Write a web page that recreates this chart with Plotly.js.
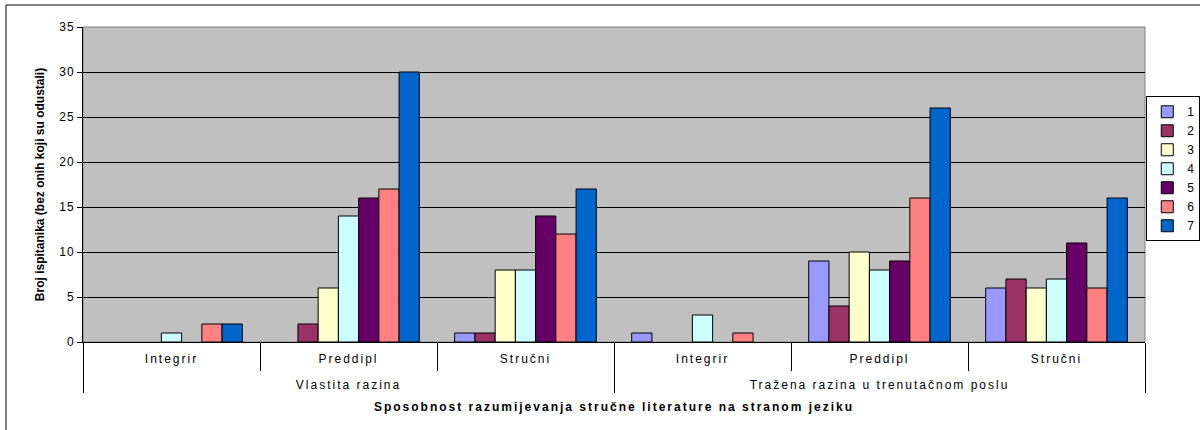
<!DOCTYPE html>
<html>
<head>
<meta charset="utf-8">
<script src="https://cdn.plot.ly/plotly-3.0.1.min.js"></script>
<style>
html,body{margin:0;padding:0;background:#fff}
#chart{width:1200px;height:430px}
#chart .xtick text, #chart .xtick2 text{letter-spacing:2px}
#chart .xtitle{letter-spacing:2px}
#chart .ytick text{letter-spacing:1px}
</style>
</head>
<body>
<div id="chart"></div>
<script>
const groups = ["Vlastita razina","Vlastita razina","Vlastita razina","Tražena razina u trenutačnom poslu","Tražena razina u trenutačnom poslu","Tražena razina u trenutačnom poslu"];
const subcats = ["Integrir","Preddipl","Stručni","Integrir","Preddipl","Stručni"];
const seriesNames = ["1","2","3","4","5","6","7"];
const s1 = [0, 0, 1, 1, 9, 6];
const s2 = [0, 2, 1, 0, 4, 7];
const s3 = [0, 6, 8, 0, 10, 6];
const s4 = [1, 14, 8, 3, 8, 7];
const s5 = [0, 16, 14, 0, 9, 11];
const s6 = [2, 17, 12, 1, 16, 6];
const s7 = [2, 30, 17, 0, 26, 16];
const colors = ["#9999FF","#993366","#FFFFCC","#CCFFFF","#660066","#FF8080","#0066CC"];
const allSeries = [s1,s2,s3,s4,s5,s6,s7];

const FONT = "Liberation Sans, Arial, sans-serif";
// leading line break pushes the group row further below the sub-category row
const groupLabels = groups.map(g => "<br>" + g);
const traces = allSeries.map((vals, i) => ({
  type: "bar",
  name: seriesNames[i],
  x: [groupLabels, subcats],
  y: vals.map(v => v === 0 ? null : v),
  marker: {color: colors[i], line: {color: "#000", width: 1}},
  hoverinfo: "y+name"
}));

const layout = {
  width: 1200, height: 430,
  margin: {l: 83, r: 55, t: 27, b: 88, autoexpand: false},
  paper_bgcolor: "#fff",
  plot_bgcolor: "#C0C0C0",
  font: {family: FONT, size: 12, color: "#000"},
  barmode: "group",
  bargap: 0.2,
  bargroupgap: 0,
  xaxis: {
    type: "multicategory",
    showgrid: false,
    showline: true, linecolor: "#000", linewidth: 1,
    ticks: "outside", tickson: "boundaries", ticklen: 28, tickcolor: "#000",
    ticklabelstandoff: 6,
    showdividers: true, dividercolor: "#000", dividerwidth: 1,
    tickfont: {family: FONT, size: 12, color: "#000"},
    title: {text: "<b>Sposobnost razumijevanja stručne literature na stranom jeziku</b>", font: {family: FONT, size: 12, color: "#000"}, standoff: 11}
  },
  yaxis: {
    range: [0, 35],
    dtick: 5,
    showgrid: true, gridcolor: "#000", gridwidth: 1,
    zeroline: false,
    showline: true, linecolor: "#000", linewidth: 1,
    ticks: "outside", ticklen: 5, tickcolor: "#000",
    tickfont: {family: FONT, size: 12, color: "#000"},
    title: {text: "<b>Broj ispitanika (bez onih koji su odustali)</b>", font: {family: FONT, size: 12, color: "#000"}, standoff: 14}
  },
  legend: {
    x: 1.0012, xanchor: "left",
    y: 0.55, yanchor: "middle",
    bgcolor: "#fff", bordercolor: "#000", borderwidth: 1,
    font: {family: FONT, size: 12, color: "#000"},
    itemwidth: 30,
    tracegroupgap: 0
  },
  showlegend: true,
  shapes: [
    {type: "rect", xref: "paper", yref: "paper", x0: 0, x1: 1, y0: 0, y1: 1, line: {color: "#808080", width: 1}, fillcolor: "rgba(0,0,0,0)", layer: "below"},
    {type: "rect", xref: "paper", yref: "paper", x0: -0.0725, x1: 1.2, y0: -0.5, y1: 1.0698, line: {color: "#000", width: 1}, fillcolor: "rgba(0,0,0,0)"}
  ]
};

Plotly.newPlot("chart", traces, layout, {displayModeBar: false, staticPlot: true});
</script>
</body>
</html>
